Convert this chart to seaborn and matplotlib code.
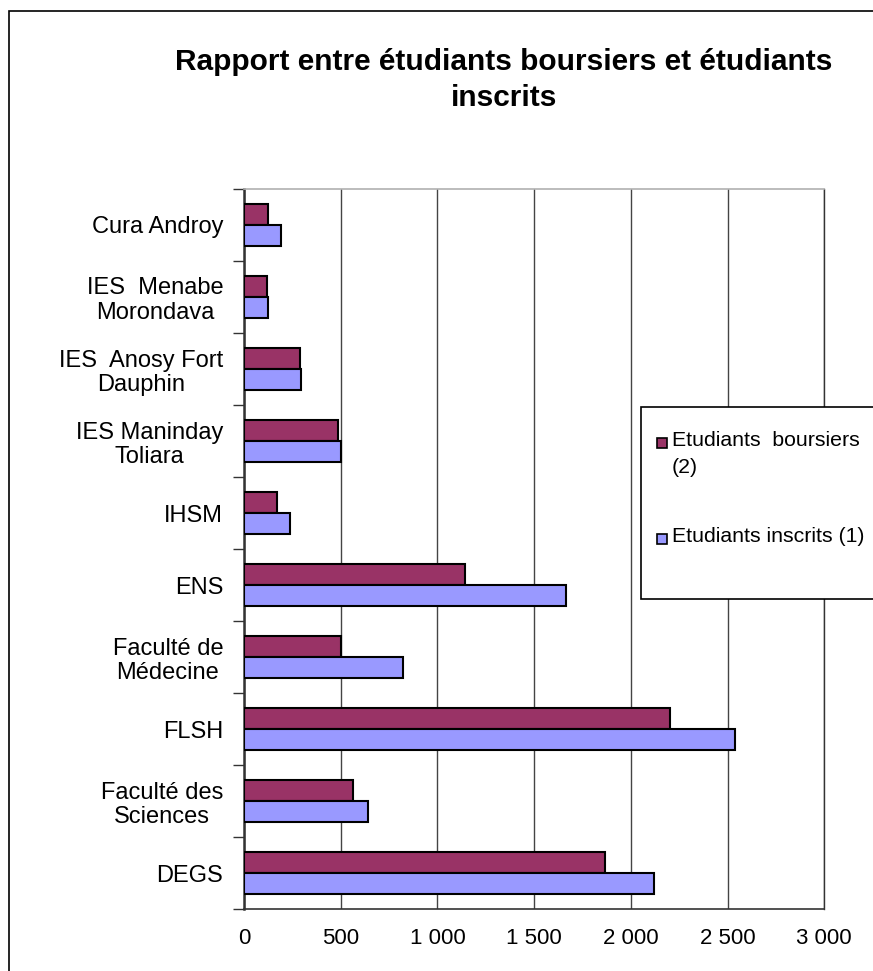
"""Diagramme: rapport entre etudiants boursiers et etudiants inscrits."""

import matplotlib

matplotlib.use("Agg")

import matplotlib.pyplot as plt
import pandas as pd
import seaborn as sns
from matplotlib.patches import Rectangle

# Donnees (haut -> bas)
etablissements = [
    "Cura Androy",
    "IES  Menabe\nMorondava",
    "IES  Anosy Fort\nDauphin",
    "IES Maninday\nToliara",
    "IHSM",
    "ENS",
    "Faculté de\nMédecine",
    "FLSH",
    "Faculté des\nSciences",
    "DEGS",
]
boursiers = [126, 119, 290, 484, 169, 1144, 503, 2203, 563, 1868]
inscrits = [193, 124, 295, 500, 238, 1666, 822, 2536, 642, 2122]
series = ["Etudiants  boursiers\n(2)", "Etudiants inscrits (1)"]
x_ticks = [0, 500, 1000, 1500, 2000, 2500, 3000]

COULEURS = ["#993366", "#9999FF"]
W, H = 873, 971


def build_frame():
    rows = []
    for etab, b, i in zip(etablissements, boursiers, inscrits):
        rows.append({"etab": etab, "serie": series[0], "valeur": b})
        rows.append({"etab": etab, "serie": series[1], "valeur": i})
    return pd.DataFrame(rows)


def main():
    sns.set_style("white")
    plt.rcParams["font.family"] = ["Liberation Sans", "DejaVu Sans"]
    plt.rcParams["text.color"] = "black"
    plt.rcParams["xtick.labelcolor"] = "black"
    plt.rcParams["ytick.labelcolor"] = "black"

    fig = plt.figure(figsize=(W / 100, H / 100), dpi=100)
    ax = fig.add_axes([244 / W, 1 - 909 / H, (824.3 - 244) / W, (909 - 189) / H])

    df = build_frame()
    sns.barplot(
        data=df,
        y="etab",
        x="valeur",
        hue="serie",
        hue_order=series,
        order=etablissements,
        palette=COULEURS,
        orient="h",
        width=0.57,
        edgecolor="black",
        linewidth=1.5,
        saturation=1,
        legend=False,
        ax=ax,
        zorder=3,
    )

    # Achsen / Gitter
    ax.set_xlim(0, 3000)
    ax.set_ylim(len(etablissements) - 0.5, -0.5)
    ax.set_xticks(x_ticks)
    ax.set_xticklabels([f"{v:,}".replace(",", " ") for v in x_ticks], fontsize=16)
    ax.xaxis.grid(True, color="#444444", linewidth=1, zorder=0)
    ax.set_axisbelow(True)
    ax.set_xlabel("")
    ax.set_ylabel("")
    ax.tick_params(axis="x", direction="out", length=7, width=1, color="#333333", pad=7)

    # Ticks de separation entre categories, etiquettes sans tick
    ax.set_yticks([i - 0.5 for i in range(len(etablissements) + 1)], minor=True)
    ax.tick_params(axis="y", which="minor", direction="out", length=8, width=1, color="#333333", left=True)
    ax.tick_params(axis="y", which="major", length=0, pad=15, labelsize=17)
    for lbl in ax.get_yticklabels():
        lbl.set_multialignment("center")
        lbl.set_linespacing(1.12)

    for side in ["left", "bottom"]:
        ax.spines[side].set_color("#333333")
    ax.spines["left"].set_linewidth(1.8)
    ax.spines["bottom"].set_linewidth(1.2)
    ax.spines["top"].set_color("#b0b0b0")
    ax.spines["top"].set_linewidth(1.2)
    ax.spines["right"].set_color("#333333")
    ax.spines["right"].set_linewidth(1)

    # Cadre du graphique
    fig.add_artist(
        Rectangle((9 / W, -0.05), 1.1, 1 - 11 / H + 0.05, transform=fig.transFigure,
                  fill=False, edgecolor="black", linewidth=1.2, clip_on=False)
    )

    fig.text(
        504 / W,
        1 - 80 / H,
        "Rapport entre étudiants boursiers et étudiants\ninscrits",
        ha="center",
        va="center",
        fontsize=21.5,
        fontweight="bold",
        linespacing=1.35,
    )

    # Legende
    fig.add_artist(
        Rectangle((641 / W, 1 - 599 / H), 0.5, 192 / H, transform=fig.transFigure,
                  facecolor="white", edgecolor="black", linewidth=1.2, clip_on=False, zorder=5)
    )
    ypos = [443, 539]
    for couleur, label, yp in zip(COULEURS, series, ypos):
        fig.add_artist(
            Rectangle((657 / W, 1 - (yp + 5) / H), 10 / W, 10 / H, transform=fig.transFigure,
                      facecolor=couleur, edgecolor="black", linewidth=1.2, zorder=6)
        )
        fig.text(672 / W, 1 - (yp - 12) / H, label, ha="left", va="top", fontsize=15.3,
                 linespacing=1.55, zorder=6)

    fig.savefig("out.png", dpi=100)
    plt.close(fig)


if __name__ == "__main__":
    main()
